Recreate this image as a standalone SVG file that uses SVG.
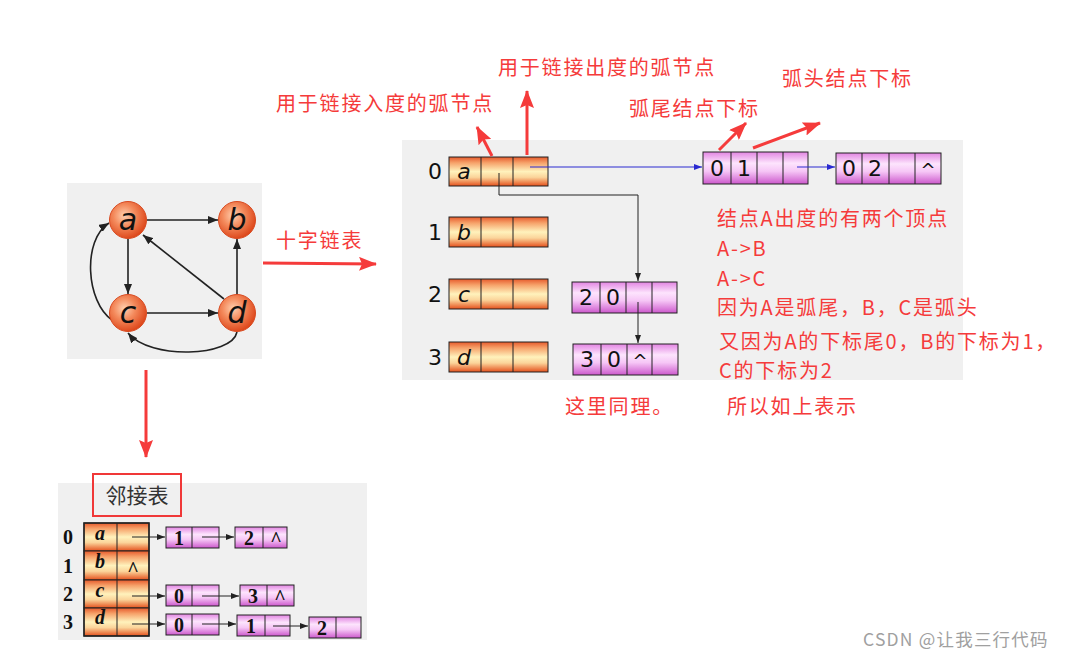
<svg xmlns="http://www.w3.org/2000/svg" width="1070" height="659" viewBox="0 0 1070 659">
<style>
.red{font-family:"Noto Sans CJK SC","Microsoft YaHei",sans-serif;font-size:20px;fill:#f53b3b;letter-spacing:1.8px}
.idx{font-family:"DejaVu Sans",sans-serif;font-size:22px;fill:#111;text-anchor:middle}
.let{font-family:"DejaVu Sans",sans-serif;font-style:italic;font-size:22px;fill:#111;text-anchor:middle}
.dig{font-family:"DejaVu Sans",sans-serif;font-size:22px;fill:#111;text-anchor:middle}
.car{font-family:"DejaVu Sans",sans-serif;font-size:18px;fill:#111;text-anchor:middle}
.sidx{font-family:"Liberation Serif",serif;font-weight:bold;font-size:20px;fill:#111;text-anchor:middle}
.slet{font-family:"Liberation Serif",serif;font-weight:bold;font-style:italic;font-size:20px;fill:#111;text-anchor:middle}
.orange{fill:url(#og);stroke:#222;stroke-width:1}
.pink{fill:url(#pg);stroke:#222;stroke-width:1}
.sep{stroke:#222;stroke-width:1}
.ball{fill:url(#bg);stroke:#d84a20;stroke-width:1}
.gl{font-family:"DejaVu Sans",sans-serif;font-style:italic;font-size:30px;fill:#111;text-anchor:middle}
.edge{fill:none;stroke:#222;stroke-width:1.6;marker-end:url(#gh)}
.thin{fill:none;stroke:#222;stroke-width:1;marker-end:url(#kh)}
.blue{fill:none;stroke:#2a2ad0;stroke-width:1;marker-end:url(#bh)}
.rarrow{fill:none;stroke:#f53b3b;stroke-width:3;marker-end:url(#rh)}
</style>
<defs>
<linearGradient id="og" x1="0" y1="0" x2="0" y2="1">
<stop offset="0" stop-color="#e65a2c"/>
<stop offset="0.2" stop-color="#f6a26a"/>
<stop offset="0.5" stop-color="#fff2bc"/>
<stop offset="0.7" stop-color="#fbd49a"/>
<stop offset="1" stop-color="#e4501c"/>
</linearGradient>
<linearGradient id="pg" x1="0" y1="0" x2="0" y2="1">
<stop offset="0" stop-color="#e285e2"/>
<stop offset="0.35" stop-color="#fde4fd"/>
<stop offset="0.6" stop-color="#f6c6f6"/>
<stop offset="1" stop-color="#cc58cc"/>
</linearGradient>
<radialGradient id="bg" cx="0.4" cy="0.38" r="0.65">
<stop offset="0" stop-color="#ffd0b0"/>
<stop offset="0.45" stop-color="#f48a5c"/>
<stop offset="1" stop-color="#dc4418"/>
</radialGradient>
<marker id="gh" markerWidth="10" markerHeight="8" refX="10" refY="4" orient="auto" markerUnits="userSpaceOnUse"><path d="M0,0 L10,4 L0,8 z" fill="#222"/></marker>
<marker id="kh" markerWidth="8" markerHeight="8" refX="8" refY="4" orient="auto" markerUnits="userSpaceOnUse"><path d="M0,1 L8,4 L0,7 z" fill="#222"/></marker>
<marker id="bh" markerWidth="8" markerHeight="8" refX="8" refY="4" orient="auto" markerUnits="userSpaceOnUse"><path d="M0,1 L8,4 L0,7 z" fill="#2a2ad0"/></marker>
<marker id="rh" markerWidth="18" markerHeight="14" refX="17" refY="7" orient="auto" markerUnits="userSpaceOnUse"><path d="M0,0 L18,7 L0,14 L3,7 z" fill="#f53b3b"/></marker>
</defs>
<rect width="1070" height="659" fill="#fff"/>

<!-- panels -->
<rect x="67" y="183" width="195" height="176" fill="#f0f0f0"/>
<rect x="402" y="140" width="561" height="240" fill="#f0f0f0"/>
<rect x="58" y="483" width="309" height="157" fill="#f0f0f0"/>

<!-- graph -->
<g id="graph-edges">
<path class="edge" d="M147,220 H218"/>
<path class="edge" d="M128,239 V294"/>
<path class="edge" d="M147,313 H218"/>
<path class="edge" d="M237,294 V239"/>
<path class="edge" d="M224,299 L143,235"/>
<path class="edge" d="M112,320 C86,302 82,240 109,223"/>
<path class="edge" d="M237,332 C232,357 150,360 128,333"/>
</g>
<g id="gnode-a"><circle class="ball" cx="128" cy="220" r="18.5"/><text class="gl" x="128" y="230">a</text></g>
<g id="gnode-b"><circle class="ball" cx="237" cy="220" r="18.5"/><text class="gl" x="237" y="230">b</text></g>
<g id="gnode-c"><circle class="ball" cx="128" cy="313" r="18.5"/><text class="gl" x="128" y="323">c</text></g>
<g id="gnode-d"><circle class="ball" cx="237" cy="313" r="18.5"/><text class="gl" x="237" y="323">d</text></g>

<!-- cross list vertex nodes -->
<g id="xv0"><text class="idx" x="435" y="179">0</text><rect class="orange" x="449" y="157" width="99" height="29"/><line class="sep" x1="481" y1="157" x2="481" y2="186"/><line class="sep" x1="513" y1="157" x2="513" y2="186"/><text class="let" x="464" y="179">a</text></g>
<g id="xv1"><text class="idx" x="435" y="240">1</text><rect class="orange" x="449" y="217" width="99" height="30"/><line class="sep" x1="481" y1="217" x2="481" y2="247"/><line class="sep" x1="513" y1="217" x2="513" y2="247"/><text class="let" x="464" y="240">b</text></g>
<g id="xv2"><text class="idx" x="435" y="302">2</text><rect class="orange" x="449" y="279" width="99" height="30"/><line class="sep" x1="481" y1="279" x2="481" y2="309"/><line class="sep" x1="513" y1="279" x2="513" y2="309"/><text class="let" x="464" y="302">c</text></g>
<g id="xv3"><text class="idx" x="435" y="365">3</text><rect class="orange" x="449" y="342" width="99" height="30"/><line class="sep" x1="481" y1="342" x2="481" y2="372"/><line class="sep" x1="513" y1="342" x2="513" y2="372"/><text class="let" x="464" y="365">d</text></g>

<!-- cross list arc nodes -->
<g id="arc01"><rect class="pink" x="703" y="152" width="105" height="32"/><line class="sep" x1="731" y1="152" x2="731" y2="184"/><line class="sep" x1="757" y1="152" x2="757" y2="184"/><line class="sep" x1="783" y1="152" x2="783" y2="184"/><text class="dig" x="717" y="176">0</text><text class="dig" x="744" y="176">1</text></g>
<g id="arc02"><rect class="pink" x="836" y="153" width="105" height="31"/><line class="sep" x1="862" y1="153" x2="862" y2="184"/><line class="sep" x1="889" y1="153" x2="889" y2="184"/><line class="sep" x1="915" y1="153" x2="915" y2="184"/><text class="dig" x="849" y="176">0</text><text class="dig" x="875" y="176">2</text><text class="car" x="928" y="176">^</text></g>
<g id="arc20"><rect class="pink" x="572" y="282" width="105" height="31"/><line class="sep" x1="600" y1="282" x2="600" y2="313"/><line class="sep" x1="626" y1="282" x2="626" y2="313"/><line class="sep" x1="652" y1="282" x2="652" y2="313"/><text class="dig" x="586" y="305">2</text><text class="dig" x="613" y="305">0</text></g>
<g id="arc30"><rect class="pink" x="573" y="344" width="105" height="31"/><line class="sep" x1="601" y1="344" x2="601" y2="375"/><line class="sep" x1="627" y1="344" x2="627" y2="375"/><line class="sep" x1="652" y1="344" x2="652" y2="375"/><text class="dig" x="587" y="367">3</text><text class="dig" x="614" y="367">0</text><text class="car" x="640" y="367">^</text></g>

<!-- adjacency list -->
<g id="adj-title"><rect x="93" y="474" width="88" height="42" fill="none" stroke="#f03838" stroke-width="2"/><text x="137" y="503" text-anchor="middle" font-family="Noto Sans CJK SC,sans-serif" font-size="21" fill="#333">邻接表</text></g>
<g id="adj-vertices">
<rect class="orange" x="84" y="523" width="65" height="28"/>
<rect class="orange" x="84" y="551" width="65" height="29"/>
<rect class="orange" x="84" y="580" width="65" height="28"/>
<rect class="orange" x="84" y="608" width="65" height="28"/>
<line class="sep" x1="117" y1="523" x2="117" y2="636"/>
<rect x="84" y="523" width="65" height="113" fill="none" stroke="#222" stroke-width="1.5"/>
<text class="sidx" x="68" y="544">0</text><text class="sidx" x="68" y="573">1</text><text class="sidx" x="68" y="601">2</text><text class="sidx" x="68" y="629">3</text>
<text class="slet" x="100" y="540">a</text><text class="slet" x="100" y="568">b</text><text class="slet" x="100" y="597">c</text><text class="slet" x="100" y="624">d</text>
<text class="sidx" x="133" y="576" font-size="16">^</text>
</g>
<g id="adj-r0n1"><rect class="pink" x="166" y="527" width="53" height="21"/><line class="sep" x1="192" y1="527" x2="192" y2="548"/><text class="sidx" x="179" y="545">1</text></g>
<g id="adj-r0n2"><rect class="pink" x="235" y="527" width="52" height="21"/><line class="sep" x1="263" y1="527" x2="263" y2="548"/><text class="sidx" x="249" y="545">2</text><text class="sidx" x="276" y="546" font-size="16">^</text></g>
<g id="adj-r2n0"><rect class="pink" x="166" y="585" width="53" height="21"/><line class="sep" x1="192" y1="585" x2="192" y2="606"/><text class="sidx" x="179" y="603">0</text></g>
<g id="adj-r2n3"><rect class="pink" x="240" y="585" width="54" height="21"/><line class="sep" x1="267" y1="585" x2="267" y2="606"/><text class="sidx" x="253" y="603">3</text><text class="sidx" x="280" y="604" font-size="16">^</text></g>
<g id="adj-r3n0"><rect class="pink" x="166" y="614" width="53" height="21"/><line class="sep" x1="192" y1="614" x2="192" y2="635"/><text class="sidx" x="179" y="632">0</text></g>
<g id="adj-r3n1"><rect class="pink" x="237" y="615" width="53" height="21"/><line class="sep" x1="265" y1="615" x2="265" y2="636"/><text class="sidx" x="251" y="633">1</text></g>
<g id="adj-r3n2"><rect class="pink" x="309" y="617" width="52" height="21"/><line class="sep" x1="336" y1="617" x2="336" y2="638"/><text class="sidx" x="322" y="635">2</text></g>

<!-- connectors -->
<g id="connectors">
<path class="blue" d="M530,167 H702"/>
<path class="blue" d="M797,167 H835"/>
<path class="thin" d="M499,173 V195 H638 V281"/>
<path class="thin" d="M638,302 V343"/>
<path class="thin" d="M132,537 H165"/>
<path class="thin" d="M202,537 H234"/>
<path class="thin" d="M132,596 H165"/>
<path class="thin" d="M202,596 H239"/>
<path class="thin" d="M132,624 H165"/>
<path class="thin" d="M202,624 H236"/>
<path class="thin" d="M273,626 H308"/>
<path class="rarrow" d="M492,156 L477,127"/>
<path class="rarrow" d="M527,155 L527,91"/>
<path class="rarrow" d="M719,150 L746,123"/>
<path class="rarrow" d="M753,148 L820,123"/>
<path class="rarrow" d="M263,263 L376,264"/>
<path class="rarrow" d="M146,370 L146,457"/>
</g>

<!-- red annotations -->
<g id="notes">
<text class="red" x="276" y="111">用于链接入度的弧节点</text>
<text class="red" x="498" y="75">用于链接出度的弧节点</text>
<text class="red" x="629" y="116">弧尾结点下标</text>
<text class="red" x="782" y="86">弧头结点下标</text>
<text class="red" x="276" y="248">十字链表</text>
<text class="red" x="717" y="226">结点A出度的有两个顶点</text>
<text class="red" x="717" y="256">A-&gt;B</text>
<text class="red" x="717" y="286">A-&gt;C</text>
<text class="red" x="717" y="315">因为A是弧尾，B，C是弧头</text>
<text class="red" x="719" y="349">又因为A的下标尾0，B的下标为1，</text>
<text class="red" x="719" y="378">C的下标为2</text>
<text class="red" x="565" y="414">这里同理。</text>
<text class="red" x="727" y="414">所以如上表示</text>
</g>
<text x="863" y="646" font-family="Noto Sans CJK SC,sans-serif" font-size="17.5" letter-spacing="1.2" fill="#a0a0a0">CSDN @让我三行代码</text>
</svg>
